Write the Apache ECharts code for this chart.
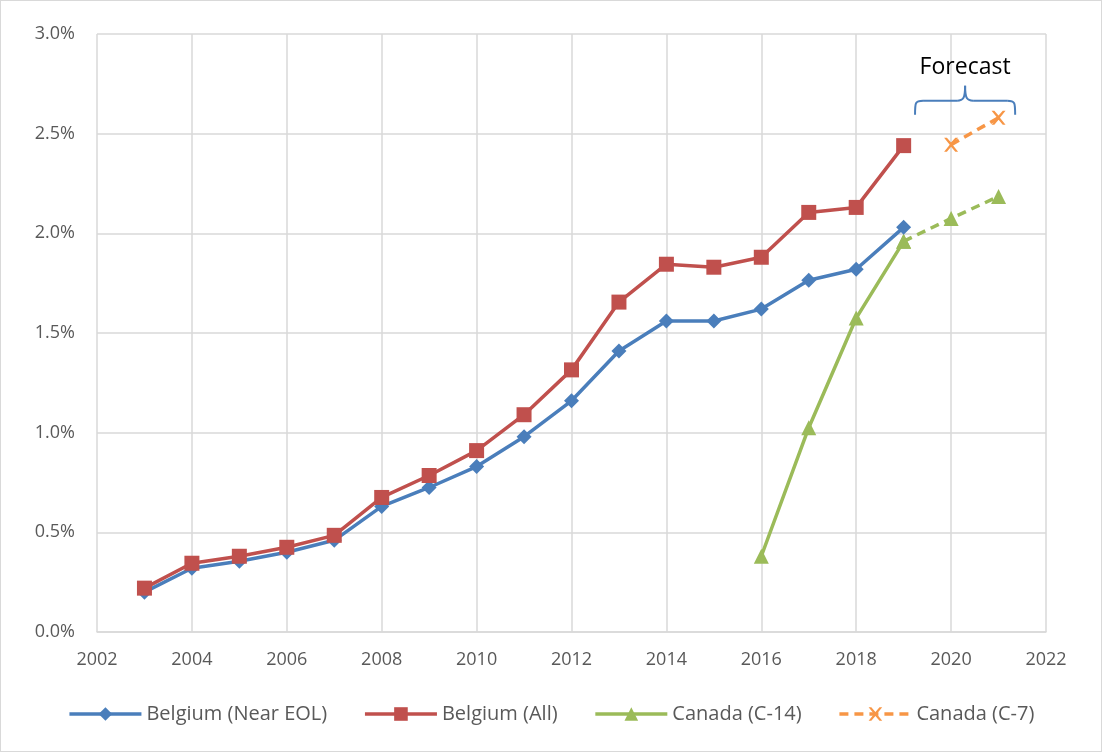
<!DOCTYPE html>
<html>
<head>
<meta charset="utf-8">
<title>Belgium / Canada</title>
<script src="https://cdn.jsdelivr.net/npm/echarts@6/dist/echarts.min.js"></script>
<style>
* { margin: 0; padding: 0; }
body { background: #fff; }
#main { width: 1100px; height: 750px; border: 1px solid #d9d9d9; }
</style>
</head>
<body>
<div id="main"></div>
<script>
// years + values (in %)
let years = [2003, 2004, 2005, 2006, 2007, 2008, 2009, 2010, 2011, 2012, 2013, 2014, 2015, 2016, 2017, 2018, 2019];
let nearEol = [0.20, 0.32, 0.355, 0.40, 0.46, 0.63, 0.725, 0.83, 0.98, 1.16, 1.41, 1.56, 1.56, 1.62, 1.765, 1.82, 2.03];
let allBe = [0.22, 0.345, 0.38, 0.425, 0.485, 0.675, 0.785, 0.91, 1.09, 1.315, 1.655, 1.845, 1.83, 1.88, 2.105, 2.13, 2.44];
let c14Years = [2016, 2017, 2018, 2019];
let c14 = [0.38, 1.025, 1.575, 1.96];
let c14FcYears = [2019, 2020, 2021];
let c14Fc = [1.96, 2.075, 2.185];
let c7Years = [2020, 2021];
let c7 = [2.445, 2.58];
let yTicks = [0, 0.5, 1.0, 1.5, 2.0, 2.5, 3.0];

const xSym = 'path://M0,0 L2,0 L5,3.5 L8,0 L10,0 L6,5 L10,10 L8,10 L5,6.5 L2,10 L0,10 L4,5 Z';
const font = "'Open Sans', 'Liberation Sans', sans-serif";

function pairs(xs, ys) {
  return xs.map((x, i) => [x, ys[i]]);
}

let myChart = echarts.init(document.getElementById('main'));
let option = {
  backgroundColor: '#fff',
  animation: false,
  grid: { left: 96, right: 55, top: 33, bottom: 119 },
  legend: {
    bottom: 22,
    itemGap: 36,
    itemWidth: 72,
    itemHeight: 17,
    lineStyle: { width: 3.5 },
    textStyle: { color: '#595959', fontSize: 20, fontFamily: font },
    data: ['Belgium (Near EOL)', 'Belgium (All)', 'Canada (C-14)', 'Canada (C-7)']
  },
  xAxis: {
    type: 'value', min: 2002, max: 2022, interval: 2,
    axisLine: { show: true, lineStyle: { color: '#d9d9d9', width: 1.5 } },
    axisTick: { show: false },
    splitLine: { show: true, lineStyle: { color: '#d9d9d9', width: 1.5 } },
    axisLabel: { color: '#595959', fontSize: 18, fontFamily: font, margin: 19,
      formatter: v => String(v) }
  },
  yAxis: {
    type: 'value', min: yTicks[0], max: yTicks[yTicks.length - 1], interval: 0.5,
    axisLine: { show: false },
    axisTick: { show: false },
    splitLine: { show: true, lineStyle: { color: '#d9d9d9', width: 1.5 } },
    axisLabel: { color: '#595959', fontSize: 18, fontFamily: font, margin: 22,
      formatter: v => v.toFixed(1) + '%' }
  },
  series: [
    {
      name: 'Belgium (Near EOL)', type: 'line', data: pairs(years, nearEol),
      symbol: 'diamond', symbolSize: 15, z: 3,
      itemStyle: { color: '#4a7ebb' }, lineStyle: { color: '#4a7ebb', width: 3.5 }
    },
    {
      name: 'Belgium (All)', type: 'line', data: pairs(years, allBe),
      symbol: 'rect', symbolSize: 15, z: 4,
      itemStyle: { color: '#c0504d' }, lineStyle: { color: '#c0504d', width: 3.5 }
    },
    {
      name: 'Canada (C-14)', type: 'line', data: pairs(c14Years, c14),
      symbol: 'triangle', symbolSize: 15, z: 2,
      itemStyle: { color: '#9bbb59' }, lineStyle: { color: '#9bbb59', width: 3.5 }
    },
    {
      name: 'Canada (C-14) forecast', type: 'line', data: pairs(c14FcYears, c14Fc),
      symbol: 'triangle', symbolSize: 15, z: 2,
      itemStyle: { color: '#9bbb59' }, lineStyle: { color: '#9bbb59', width: 3.5, type: [9, 6] }
    },
    {
      name: 'Canada (C-7)', type: 'line', data: pairs(c7Years, c7),
      symbol: xSym, symbolSize: 14, z: 2,
      itemStyle: { color: '#f79646' }, lineStyle: { color: '#f79646', width: 3.5, type: [9, 6] }
    }
  ]
};
myChart.setOption(option);

// "Forecast" brace above the projected points
let p1 = myChart.convertToPixel({ gridIndex: 0 }, [2019.24, 2.595]);
let p2 = myChart.convertToPixel({ gridIndex: 0 }, [2021.35, 2.595]);
let by = p1[1] - 14;
let mid = (p1[0] + p2[0]) / 2;
let x1 = p1[0], x2 = p2[0], yb = p1[1];
let braceStyle = { stroke: '#4a7ebb', lineWidth: 2, fill: null };
function curve(a, b, c1, c2) {
  return { type: 'bezierCurve', silent: true, style: braceStyle,
    shape: { x1: a[0], y1: a[1], x2: b[0], y2: b[1], cpx1: c1[0], cpy1: c1[1], cpx2: c2[0], cpy2: c2[1] } };
}
function seg(a, b) {
  return { type: 'line', silent: true, style: braceStyle,
    shape: { x1: a[0], y1: a[1], x2: b[0], y2: b[1] } };
}
myChart.setOption({
  graphic: [
    curve([x1, yb], [x1 + 8, by], [x1, by + 2], [x1, by]),
    seg([x1 + 8, by], [mid - 8, by]),
    curve([mid - 8, by], [mid, by - 15], [mid - 2, by], [mid, by - 2]),
    curve([mid, by - 15], [mid + 8, by], [mid, by - 2], [mid + 2, by]),
    seg([mid + 8, by], [x2 - 8, by]),
    curve([x2 - 8, by], [x2, yb], [x2, by], [x2, by + 2]),
    {
      type: 'text', silent: true, x: mid, y: by - 22,
      style: { text: 'Forecast', fill: '#000', font: '23px ' + font, align: 'center', verticalAlign: 'bottom' }
    }
  ]
});
</script>
</body>
</html>
